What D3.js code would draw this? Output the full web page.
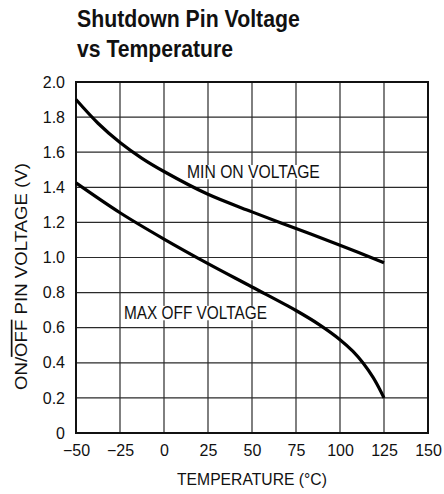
<!DOCTYPE html>
<meta charset="utf-8">
<script src="https://d3js.org/d3.v7.min.js"></script>
<style>
  body { margin: 0; background: #fff; }
  text { font-family: "Liberation Sans", Arial, sans-serif; fill: #111; }
</style>
<body>
<div id="chart"></div>
<script>
// x/y ticks
var xTicks = [-50, -25, 0, 25, 50, 75, 100, 125, 150];
var yTicks = [0, 0.2, 0.4, 0.6, 0.8, 1.0, 1.2, 1.4, 1.6, 1.8, 2.0];

// MIN ON VOLTAGE curve
var tempMinOn = [-50, -37.5, -25, -12.5, 0, 25, 50, 75, 100, 125];
var minOn = [1.90, 1.765, 1.655, 1.565, 1.49, 1.36, 1.26, 1.165, 1.07, 0.97];

// MAX OFF VOLTAGE curve
var tempMaxOff = [-50, -25, 0, 25, 50, 75, 88.6, 100, 107.4, 113, 118.7, 122.4, 125];
var maxOff = [1.425, 1.255, 1.105, 0.965, 0.832, 0.698, 0.615, 0.532, 0.465, 0.40, 0.318, 0.252, 0.20];

var margin = {top: 82, right: 16, bottom: 61, left: 76},
    width = 444 - margin.left - margin.right,
    height = 494 - margin.top - margin.bottom;

var svg = d3.select("#chart").append("svg")
    .attr("width", 444)
    .attr("height", 494);

// squeeze a text to a given width (the original uses a condensed face)
function fitText(sel, tx, ty, target, rot) {
  var w = sel.node().getBBox().width;
  sel.attr("transform", "translate(" + tx + "," + ty + ")" +
    (rot ? " rotate(" + rot + ")" : "") + " scale(" + (target / w) + ",1)");
  return sel;
}

// title
fitText(svg.append("text").style("font-size", "24px").style("font-weight", "bold")
    .text("Shutdown Pin Voltage"), 77, 27, 223);
fitText(svg.append("text").style("font-size", "24px").style("font-weight", "bold")
    .text("vs Temperature"), 77, 57, 156);

var g = svg.append("g")
    .attr("transform", "translate(" + margin.left + "," + margin.top + ")");

var x = d3.scaleLinear().domain([-50, 150]).range([0, width]);
var y = d3.scaleLinear().domain([0, 2]).range([height, 0]);

// grid
g.selectAll(".vgrid").data(xTicks).enter().append("line")
    .attr("x1", function(d) { return x(d); })
    .attr("x2", function(d) { return x(d); })
    .attr("y1", 0).attr("y2", height)
    .attr("stroke", "#2a2a2a").attr("stroke-width", 1.2);
g.selectAll(".hgrid").data(yTicks).enter().append("line")
    .attr("y1", function(d) { return y(d); })
    .attr("y2", function(d) { return y(d); })
    .attr("x1", 0).attr("x2", width)
    .attr("stroke", "#2a2a2a").attr("stroke-width", 1.2);

// frame
g.append("rect")
    .attr("width", width).attr("height", height)
    .attr("fill", "none").attr("stroke", "#111").attr("stroke-width", 2);

// axes (labels only)
var xAxis = g.append("g")
    .attr("transform", "translate(0," + height + ")")
    .call(d3.axisBottom(x).tickValues(xTicks).tickSize(0).tickPadding(12)
      .tickFormat(function(d) { return d < 0 ? "\u2212" + Math.abs(d) : d; }));
xAxis.select(".domain").remove();
xAxis.selectAll("text").style("font-size", "16px").attr("fill", "#111");

var yAxis = g.append("g")
    .call(d3.axisLeft(y).tickValues(yTicks).tickSize(0).tickPadding(11)
      .tickFormat(function(d) { return d === 0 ? "0" : d3.format(".1f")(d); }));
yAxis.select(".domain").remove();
yAxis.selectAll("text").style("font-size", "16px").attr("fill", "#111");

// axis titles
fitText(svg.append("text").style("font-size", "17px")
    .text("TEMPERATURE (\u00B0C)"), 177, 485, 150);

var yl = svg.append("text").style("font-size", "17px");
yl.append("tspan").text("ON/");
yl.append("tspan").style("text-decoration", "overline").text("OFF");
yl.append("tspan").text(" PIN VOLTAGE (V)");
fitText(yl, 27, 390, 227, -90);

// curves
var line = d3.line()
    .x(function(d) { return x(d[0]); })
    .y(function(d) { return y(d[1]); })
    .curve(d3.curveCatmullRom.alpha(0.5));

g.append("path")
    .datum(d3.zip(tempMinOn, minOn))
    .attr("d", line)
    .attr("fill", "none").attr("stroke", "#000").attr("stroke-width", 3.2);

g.append("path")
    .datum(d3.zip(tempMaxOff, maxOff))
    .attr("d", line)
    .attr("fill", "none").attr("stroke", "#000").attr("stroke-width", 3.2);

// curve labels with white backing
function curveLabel(txt, px, py, w) {
  var t = fitText(svg.append("text").style("font-size", "18px").text(txt), px, py, w);
  var b = t.node().getBBox();
  svg.insert("rect", function() { return t.node(); })
      .attr("x", px - 1).attr("y", py + b.y + 3)
      .attr("width", w + 2).attr("height", b.height - 6)
      .attr("fill", "#fff");
}
curveLabel("MIN ON VOLTAGE", 187, 178, 133);
curveLabel("MAX OFF VOLTAGE", 124, 319, 143);
</script>
</body>
